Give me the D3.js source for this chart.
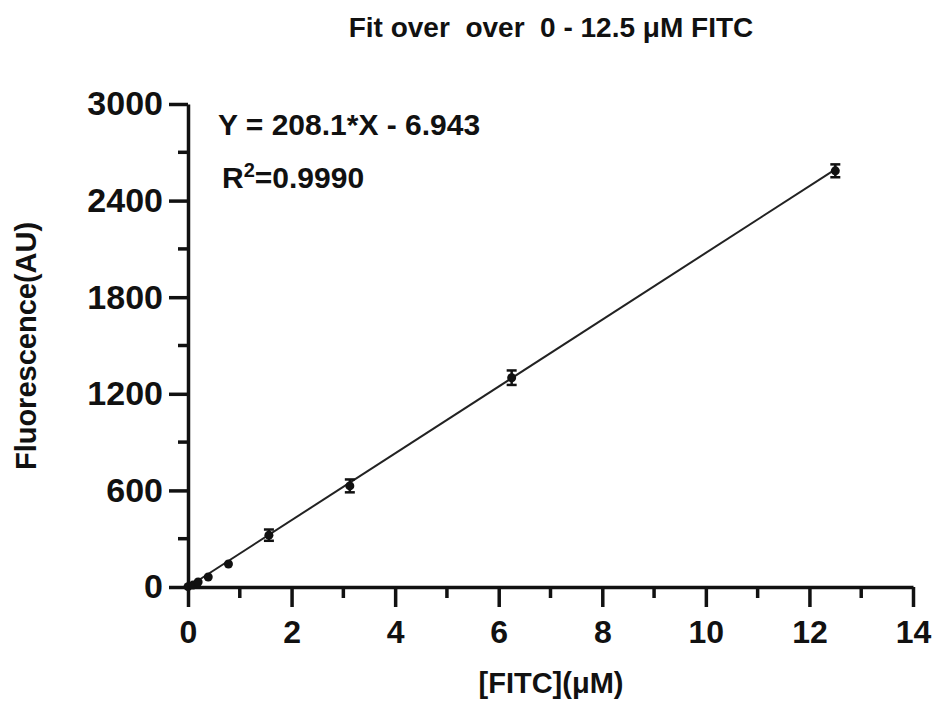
<!DOCTYPE html>
<html>
  <head>
    <meta charset="utf-8"/>
    <style>
    body {
      font-family: "Liberation Sans", Arial, sans-serif;
      margin: 0;
      background: #fff;
    }
    text { font-weight: bold; fill: #111; font-family: "Liberation Sans", Arial, sans-serif; }
    </style>
  </head>
  <body>
    <script src="https://d3js.org/d3.v7.min.js"></script>
    <script>
    var width = 938, height = 704;

    // FITC concentration (uM), mean fluorescence (AU), SD
    var conc = [0, 0.0977, 0.1953, 0.3906, 0.78125, 1.5625, 3.125, 6.25, 12.5];
    var fluo = [2, 12, 31, 62, 143, 322, 628, 1300, 2585];
    var err = [3, 4, 6, 8, 12, 35, 40, 45, 40];

    var xTicks = [0, 2, 4, 6, 8, 10, 12, 14];
    var yTicks = [0, 600, 1200, 1800, 2400, 3000];
    var slope = 208.1, intercept = -6.943;

    var margin = {left: 188, right: 25, top: 104, bottom: 117};

    var x = d3.scaleLinear().domain([0, 14]).range([margin.left, width - margin.right]);
    var y = d3.scaleLinear().domain([0, 3000]).range([height - margin.bottom, margin.top]);

    var svg = d3.select("body").append("svg")
        .attr("width", width)
        .attr("height", height);

    // axes
    var xAxis = svg.append("g")
        .attr("transform", "translate(0," + y(0) + ")")
        .call(d3.axisBottom(x).tickValues(xTicks).tickSize(20).tickPadding(12).tickSizeOuter(0));
    xAxis.selectAll(".tick text").style("font-size", "32px").attr("dy", "0.75em");

    xAxis.selectAll(".minor")
        .data(d3.range(1, 14, 2))
      .enter().append("line")
        .attr("x1", function(d) { return x(d); })
        .attr("x2", function(d) { return x(d); })
        .attr("y2", 11);

    var yAxis = svg.append("g")
        .attr("transform", "translate(" + x(0) + ",0)")
        .call(d3.axisLeft(y).tickValues(yTicks).tickFormat(d3.format("d"))
          .tickSize(19).tickPadding(6).tickSizeOuter(0));
    yAxis.selectAll(".tick text").style("font-size", "34px");

    yAxis.selectAll(".minor")
        .data(d3.range(300, 3000, 600))
      .enter().append("line")
        .attr("y1", function(d) { return y(d); })
        .attr("y2", function(d) { return y(d); })
        .attr("x2", -10);

    svg.selectAll(".domain, .tick line, .minor, g line")
        .attr("stroke", "#111")
        .attr("stroke-width", 3.5);

    // fit line
    svg.append("line")
        .attr("x1", x(0)).attr("y1", y(Math.max(0, intercept)))
        .attr("x2", x(12.5)).attr("y2", y(slope * 12.5 + intercept))
        .attr("stroke", "#222")
        .attr("stroke-width", 2);

    // error bars
    var pts = conc.map(function(c, i) { return {x: c, y: fluo[i], e: err[i]}; });

    var eb = svg.append("g").attr("stroke", "#111").attr("stroke-width", 2.5);
    eb.selectAll(".bar").data(pts).enter().append("line")
        .attr("x1", function(d) { return x(d.x); })
        .attr("x2", function(d) { return x(d.x); })
        .attr("y1", function(d) { return y(d.y - d.e); })
        .attr("y2", function(d) { return y(d.y + d.e); });
    [1, -1].forEach(function(s) {
      eb.selectAll(".cap" + s).data(pts.filter(function(d) { return d.e > 20; })).enter().append("line")
          .attr("x1", function(d) { return x(d.x) - 5; })
          .attr("x2", function(d) { return x(d.x) + 5; })
          .attr("y1", function(d) { return y(d.y + s * d.e); })
          .attr("y2", function(d) { return y(d.y + s * d.e); });
    });

    svg.selectAll(".pt").data(pts).enter().append("circle")
        .attr("cx", function(d) { return x(d.x); })
        .attr("cy", function(d) { return y(d.y); })
        .attr("r", 4.5)
        .attr("fill", "#111");

    // texts
    svg.append("text")
        .attr("x", 551).attr("y", 37)
        .attr("text-anchor", "middle")
        .style("font-size", "28px")
        .style("white-space", "pre")
        .text("Fit over  over  0 - 12.5 \u03bcM FITC");

    svg.append("text")
        .attr("x", 218).attr("y", 135)
        .style("font-size", "30px")
        .text("Y = 208.1*X - 6.943");

    var r2 = svg.append("text")
        .attr("x", 222).attr("y", 188)
        .style("font-size", "30px");
    r2.append("tspan").text("R");
    r2.append("tspan").attr("dy", -11).style("font-size", "20px").text("2");
    r2.append("tspan").attr("dy", 11).text("=0.9990");

    svg.append("text")
        .attr("transform", "translate(36,346) rotate(-90)")
        .attr("text-anchor", "middle")
        .style("font-size", "29px")
        .text("Fluorescence(AU)");

    svg.append("text")
        .attr("x", 551).attr("y", 693)
        .attr("text-anchor", "middle")
        .style("font-size", "29px")
        .text("[FITC](\u03bcM)");
    </script>
  </body>
</html>
